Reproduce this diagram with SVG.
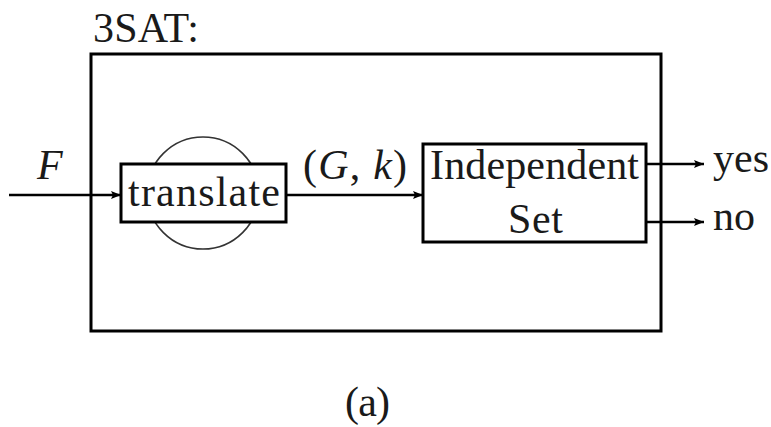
<svg xmlns="http://www.w3.org/2000/svg" width="771" height="427" viewBox="0 0 771 427">
  <style>
    .box { fill: none; stroke: #000; stroke-width: 3; }
    .wire { fill: none; stroke: #000; stroke-width: 2.5; }
  </style>
  <defs>
    <marker id="head" viewBox="0 0 10 8" refX="10" refY="4" markerWidth="10" markerHeight="8" markerUnits="userSpaceOnUse" orient="auto">
      <path d="M0,0 L10,4 L0,8 L2,4 Z" fill="#000"/>
    </marker>
  </defs>

  <g font-family="Liberation Serif, serif" font-size="42" fill="#1a1a1a">
    <g id="title">
      <text x="93" y="42" textLength="106">3SAT:</text>
    </g>

    <g id="frame">
      <rect class="box" x="91" y="54" width="570" height="277"/>
    </g>

    <g id="translate">
      <circle cx="203" cy="193" r="56" fill="none" stroke="#333" stroke-width="1.6"/>
      <rect x="121" y="164" width="165" height="58" fill="#fff" stroke="#000" stroke-width="3"/>
      <text x="128" y="206" textLength="152">translate</text>
    </g>

    <g id="independent-set">
      <rect class="box" x="423" y="144" width="223" height="98"/>
      <text x="430" y="179" textLength="209">Independent</text>
      <text x="508" y="233" textLength="55">Set</text>
    </g>

    <g id="connectors">
      <line class="wire" x1="9" y1="195" x2="121" y2="195" marker-end="url(#head)"/>
      <line class="wire" x1="286" y1="195" x2="423" y2="195" marker-end="url(#head)"/>
      <line class="wire" x1="646" y1="164" x2="704" y2="164" marker-end="url(#head)"/>
      <line class="wire" x1="646" y1="222" x2="704" y2="222" marker-end="url(#head)"/>
    </g>

    <g id="labels">
      <text x="37" y="179" font-style="italic">F</text>
      <text x="303" y="179" textLength="104">(<tspan font-style="italic">G</tspan>, <tspan font-style="italic">k</tspan>)</text>
      <text x="713" y="172">yes</text>
      <text x="713" y="230">no</text>
      <text x="345" y="416" textLength="45">(a)</text>
    </g>
  </g>
</svg>
